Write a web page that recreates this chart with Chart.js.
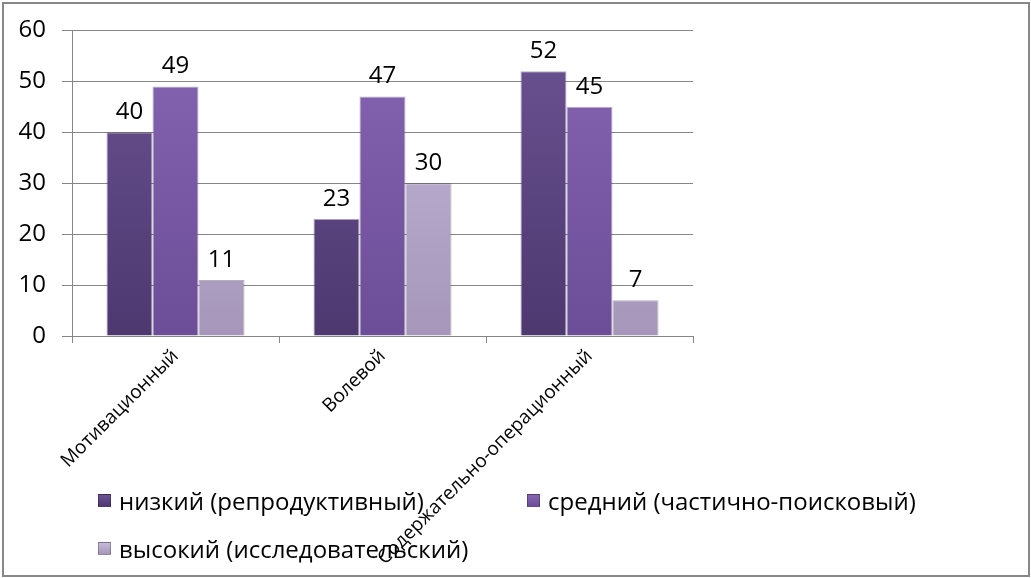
<!DOCTYPE html>
<html>
<head>
<meta charset="utf-8">
<script src="https://cdn.jsdelivr.net/npm/chart.js@4.4.1/dist/chart.umd.min.js"></script>
<style>
  html, body { margin: 0; padding: 0; background: #fff; }
  #wrap { position: relative; width: 1031px; height: 578px; }
  #frame { position: absolute; left: 2px; top: 2px; width: 1024px; height: 571px; border: 2px solid #888; pointer-events: none; }
  #legend { position: absolute; left: 98px; top: 484px; font-family: 'Open Sans', sans-serif; font-size: 24px; color: #000; }
  .item { position: absolute; white-space: nowrap; display: flex; align-items: center; }
  .box { width: 11px; height: 11px; margin-right: 8px; border: 1px solid rgba(0,0,0,0.25); }
</style>
</head>
<body>
<div id="wrap">
  <canvas id="chart" width="1031" height="578"></canvas>
  <div id="legend"></div>
  <div id="frame"></div>
</div>
<script>
const categories = ['Мотивационный', 'Волевой', 'Содержательно-операционный'];
const seriesNames = ['низкий (репродуктивный)', 'средний (частично-поисковый)', 'высокий (исследовательский)'];
const lowValues = [40, 23, 52];
const midValues = [49, 47, 45];
const highValues = [11, 30, 7];
const yTicks = [0, 10, 20, 30, 40, 50, 60];

const topColors = ['#6b5392', '#8665b3', '#c6badb'];
const bottomColors = ['#4d3870', '#6c4d97', '#a596ba'];

const makeFill = (i) => (context) => {
  const area = context.chart.chartArea;
  if (!area) return topColors[i];
  const g = context.chart.ctx.createLinearGradient(0, area.top, 0, area.bottom);
  g.addColorStop(0, topColors[i]);
  g.addColorStop(1, bottomColors[i]);
  return g;
};

const valueLabels = {
  id: 'valueLabels',
  afterDatasetsDraw(chart) {
    const ctx = chart.ctx;
    ctx.save();
    ctx.font = '24px "Open Sans"';
    ctx.fillStyle = '#000';
    ctx.textAlign = 'center';
    ctx.textBaseline = 'bottom';
    chart.data.datasets.forEach((ds, i) => {
      chart.getDatasetMeta(i).data.forEach((bar, j) => {
        ctx.fillText(ds.data[j], bar.x, bar.y - 8);
      });
    });
    ctx.restore();
  }
};

const ctx = document.getElementById('chart').getContext('2d');
const chart = new Chart(ctx, {
  type: 'bar',
  data: {
    labels: categories,
    datasets: [lowValues, midValues, highValues].map((vals, i) => ({
      label: seriesNames[i],
      data: vals,
      backgroundColor: makeFill(i),
      borderColor: 'rgba(40,25,60,0.35)',
      borderWidth: 1,
      categoryPercentage: 0.667,
      barPercentage: 1
    }))
  },
  options: {
    responsive: false,
    animation: false,
    layout: { padding: { left: 0, top: 30, right: 338, bottom: 0 } },
    plugins: { legend: { display: false }, tooltip: { enabled: false } },
    scales: {
      x: {
        grid: { display: true, drawOnChartArea: false, color: '#868686', tickLength: 7, offset: true },
        border: { display: true, color: '#868686' },
        ticks: {
          color: '#000', font: { family: 'Open Sans', size: 19 },
          minRotation: 45, maxRotation: 45, padding: 2, autoSkip: false
        },
        afterFit: (scale) => { scale.height = 578 - 336; }
      },
      y: {
        min: 0, max: 60,
        afterBuildTicks: (scale) => { scale.ticks = yTicks.map(v => ({ value: v })); },
        grid: { color: '#868686', tickLength: 10 },
        border: { display: true, color: '#868686' },
        ticks: { color: '#000', font: { family: 'Open Sans', size: 24 }, padding: 16 },
        afterFit: (scale) => { scale.width = 72; }
      }
    }
  },
  plugins: [valueLabels]
});

const legend = document.getElementById('legend');
const legendPos = [[0, 0], [429, 0], [0, 48]];
chart.data.datasets.forEach((ds, i) => {
  const item = document.createElement('div');
  item.className = 'item';
  item.style.left = legendPos[i][0] + 'px';
  item.style.top = legendPos[i][1] + 'px';
  const box = document.createElement('span');
  box.className = 'box';
  box.style.background = 'linear-gradient(' + topColors[i] + ',' + bottomColors[i] + ')';
  const text = document.createElement('span');
  text.textContent = ds.label;
  item.appendChild(box);
  item.appendChild(text);
  legend.appendChild(item);
});
</script>
</body>
</html>
